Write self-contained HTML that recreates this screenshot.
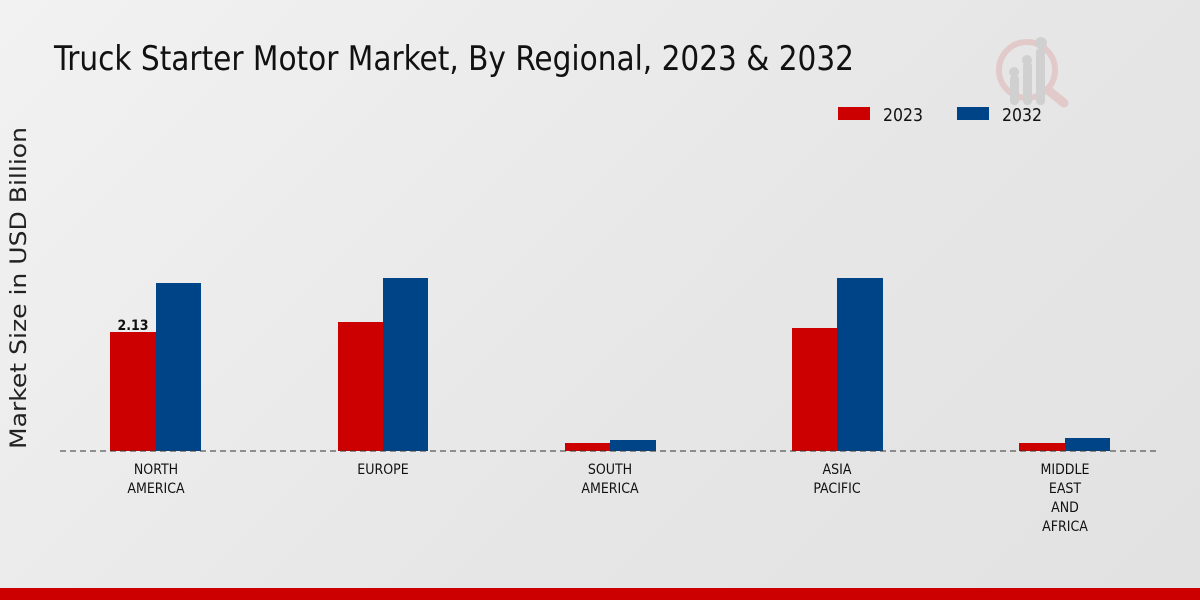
<!DOCTYPE html>
<html><head><style>
html,body{margin:0;padding:0}
body{width:1200px;height:600px;overflow:hidden;background:linear-gradient(135deg,#f2f2f2 0%,#e6e6e6 60%,#e2e2e2 100%);position:relative;font-family:"DejaVu Sans Condensed","DejaVu Sans","Liberation Sans",sans-serif}
</style></head><body>
<svg width="1200" height="600" style="position:absolute;left:0;top:0">
<text x="54" y="70" font-size="34" fill="#111" font-family="DejaVu Sans Condensed, DejaVu Sans, sans-serif" textLength="800" lengthAdjust="spacingAndGlyphs">Truck Starter Motor Market, By Regional, 2023 &amp; 2032</text>
<g opacity="0.5">
<circle cx="1027" cy="70" r="28" fill="none" stroke="#e0b0b0" stroke-width="6"/>
<line x1="1048" y1="90" x2="1064" y2="103" stroke="#e0b0b0" stroke-width="9" stroke-linecap="round"/>
<rect x="1010" y="75" width="9" height="30" rx="4" fill="#bbb"/>
<rect x="1023" y="62" width="9" height="43" rx="4" fill="#bbb"/>
<rect x="1036" y="48" width="9" height="57" rx="4" fill="#bbb"/>
<circle cx="1014" cy="72" r="5" fill="#bbb"/><circle cx="1027" cy="60" r="5" fill="#bbb"/><circle cx="1041" cy="43" r="6" fill="#bbb"/>
</g>
<rect x="838" y="107" width="32" height="13" fill="#cc0000"/>
<text x="883" y="121" font-size="18" fill="#111" textLength="40" lengthAdjust="spacingAndGlyphs">2023</text>
<rect x="957" y="107" width="32" height="13" fill="#004488"/>
<text x="1002" y="121" font-size="18" fill="#111" textLength="40" lengthAdjust="spacingAndGlyphs">2032</text>
<text transform="translate(26,288) rotate(-90)" font-size="22" fill="#222" text-anchor="middle" font-family="DejaVu Sans, sans-serif" textLength="322" lengthAdjust="spacingAndGlyphs">Market Size in USD Billion</text>
<g fill="#cc0000">
<rect x="110" y="332" width="46" height="119"/>
<rect x="338" y="322" width="45" height="129"/>
<rect x="565" y="443" width="45" height="8"/>
<rect x="792" y="328" width="45" height="123"/>
<rect x="1019" y="443" width="46" height="8"/>
</g>
<g fill="#004488">
<rect x="156" y="283" width="45" height="168"/>
<rect x="383" y="278" width="45" height="173"/>
<rect x="610" y="440" width="46" height="11"/>
<rect x="837" y="278" width="46" height="173"/>
<rect x="1065" y="438" width="45" height="13"/>
</g>
<line x1="60" y1="451" x2="1160" y2="451" stroke="#333" stroke-dasharray="6,4" stroke-width="1"/>
<text x="133" y="330" font-size="14" font-weight="bold" text-anchor="middle" fill="#111">2.13</text>
<g font-size="14" fill="#111" text-anchor="middle">
<text x="156" y="474">NORTH</text><text x="156" y="493">AMERICA</text>
<text x="383" y="474">EUROPE</text>
<text x="610" y="474">SOUTH</text><text x="610" y="493">AMERICA</text>
<text x="837" y="474">ASIA</text><text x="837" y="493">PACIFIC</text>
<text x="1065" y="474">MIDDLE</text><text x="1065" y="493">EAST</text><text x="1065" y="512">AND</text><text x="1065" y="531">AFRICA</text>
</g>
<rect x="0" y="588" width="1200" height="12" fill="#cc0000"/>
</svg>
</body></html>
